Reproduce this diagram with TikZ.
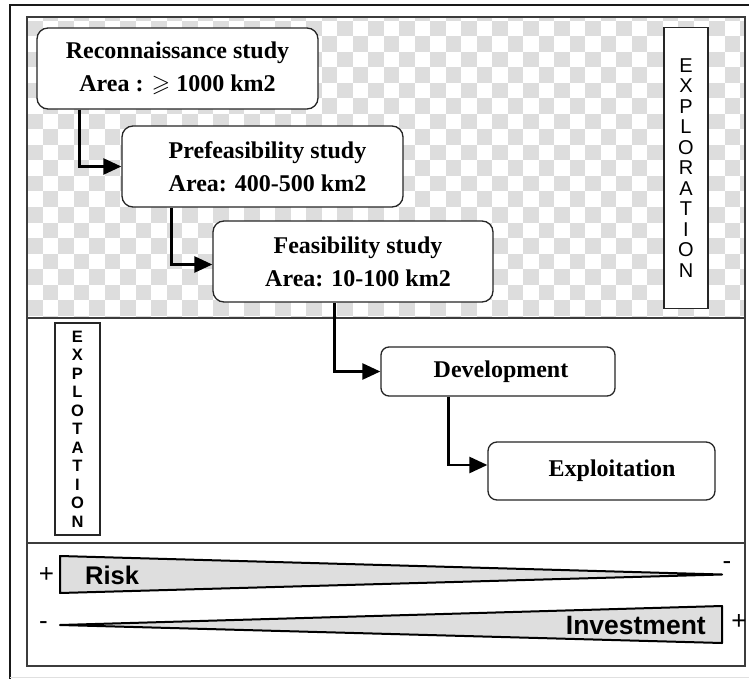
\documentclass[tikz,border=0pt]{standalone}
\usepackage{amssymb}
\usepackage{fontspec}
\setmainfont{Liberation Serif}
\setsansfont{Liberation Sans}
\usetikzlibrary{arrows.meta}
\definecolor{checkgray}{RGB}{221,221,221}
\definecolor{wedgegray}{RGB}{222,222,222}
\definecolor{frameline}{RGB}{60,60,60}
\begin{document}
\begin{tikzpicture}[x=1pt,y=-1pt,
  stagebox/.style={draw=black!85, line width=1.3pt, rounded corners=11pt, fill=white,
    font=\fontsize{24}{33}\selectfont\bfseries, align=center, inner sep=0pt},
  conn/.style={line width=2.6pt, line join=miter, -{Triangle[length=18pt,width=16pt]}},
  sidebox/.style={draw=black!85, line width=1.5pt, fill=white, align=center, inner sep=0pt},
  wedge/.style={fill=wedgegray, draw=black, line width=2pt, line join=round},
  signlbl/.style={font=\sffamily\fontsize{26}{26}\selectfont, inner sep=0pt},
  wedgelbl/.style={font=\sffamily\bfseries\fontsize{25.5}{26}\selectfont, inner sep=0pt}]
\useasboundingbox (0,0) rectangle (749,679);
\fill[white] (0,0) rectangle (749,679);
% checkerboard
\begin{scope}
\clip (27,17) rectangle (745,318);
\foreach \i in {0,...,46}{
  \foreach \j in {-1,...,19}{
    \pgfmathtruncatemacro\cpar{mod(\i+\j+2,2)}
    \ifnum\cpar=0
      \fill[checkgray] ({27+15.5*\i},{21+15.5*\j}) rectangle +(15.5,15.5);
    \fi
  }
}
\end{scope}
% frames
\draw[line width=1.3pt, frameline] (27,17) rectangle (745,666);
\draw[line width=1.3pt, frameline] (27,318) -- (745,318);
\draw[line width=1.3pt, frameline] (27,543) -- (745,543);
\draw[line width=2.5pt, black!90] (10,679) -- (10,5) -- (749,5);
\draw[line width=1pt, black!12] (10,677) -- (749,677);
% stage boxes
\node[stagebox, minimum width=281, minimum height=81] (recon) at (177.5,68.5)
  {Reconnaissance study\\Area : $\geqslant$ 1000 km2};
\node[stagebox, minimum width=281, minimum height=81] (pre) at (262.5,166.5)
  {\hspace*{10pt}Prefeasibility study\\\hspace*{10pt}Area: 400-500 km2};
\node[stagebox, minimum width=280, minimum height=81] (feas) at (353,261.5)
  {\hspace*{10pt}Feasibility study\\\hspace*{10pt}Area: 10-100 km2};
\node[stagebox, rounded corners=8pt, minimum width=234, minimum height=49] (dev) at (498,371.5)
  {\hspace*{6pt}Development};
\node[stagebox, rounded corners=9pt, minimum width=227, minimum height=58] (expl) at (601.5,471)
  {\hspace*{21pt}Exploitation};
% connectors
\draw[conn] ([xshift=43pt]recon.south west) |- (pre.west);
\draw[conn] ([xshift=50pt]pre.south west) |- ([yshift=-3pt]feas.west);
\draw[conn] ([xshift=122pt]feas.south west) |- (dev.west);
\draw[conn] ([xshift=68pt]dev.south west) |- ([yshift=6pt]expl.west);
% side labels
\node[sidebox, minimum width=44, minimum height=281,
  font=\sffamily\fontsize{20}{20.5}\selectfont] (explor) at (686,168)
  {E\\X\\P\\L\\O\\R\\A\\T\\I\\O\\N};
\node[sidebox, minimum width=45, minimum height=212,
  font=\sffamily\bfseries\fontsize{16.5}{18.5}\selectfont] (exploit) at (77.5,429)
  {E\\X\\P\\L\\O\\T\\A\\T\\I\\O\\N};
% wedges
\draw[wedge] (60,556) -- (722,574.5) -- (60,593) -- cycle;
\draw[wedge] (60,625) -- (722,606) -- (722,643) -- cycle;
\node[wedgelbl, anchor=west] (risk) at (85,575) {Risk};
\node[wedgelbl, anchor=east, font=\sffamily\bfseries\fontsize{26.5}{27}\selectfont] (inv) at (706,626) {Investment};
\node[signlbl] (rplus) at (46.5,575) {+};
\node[signlbl] (rminus) at (727,566) {-};
\node[signlbl] (iminus) at (43.5,626) {-};
\node[signlbl] (iplus) at (739,622) {+};
\end{tikzpicture}
\end{document}
